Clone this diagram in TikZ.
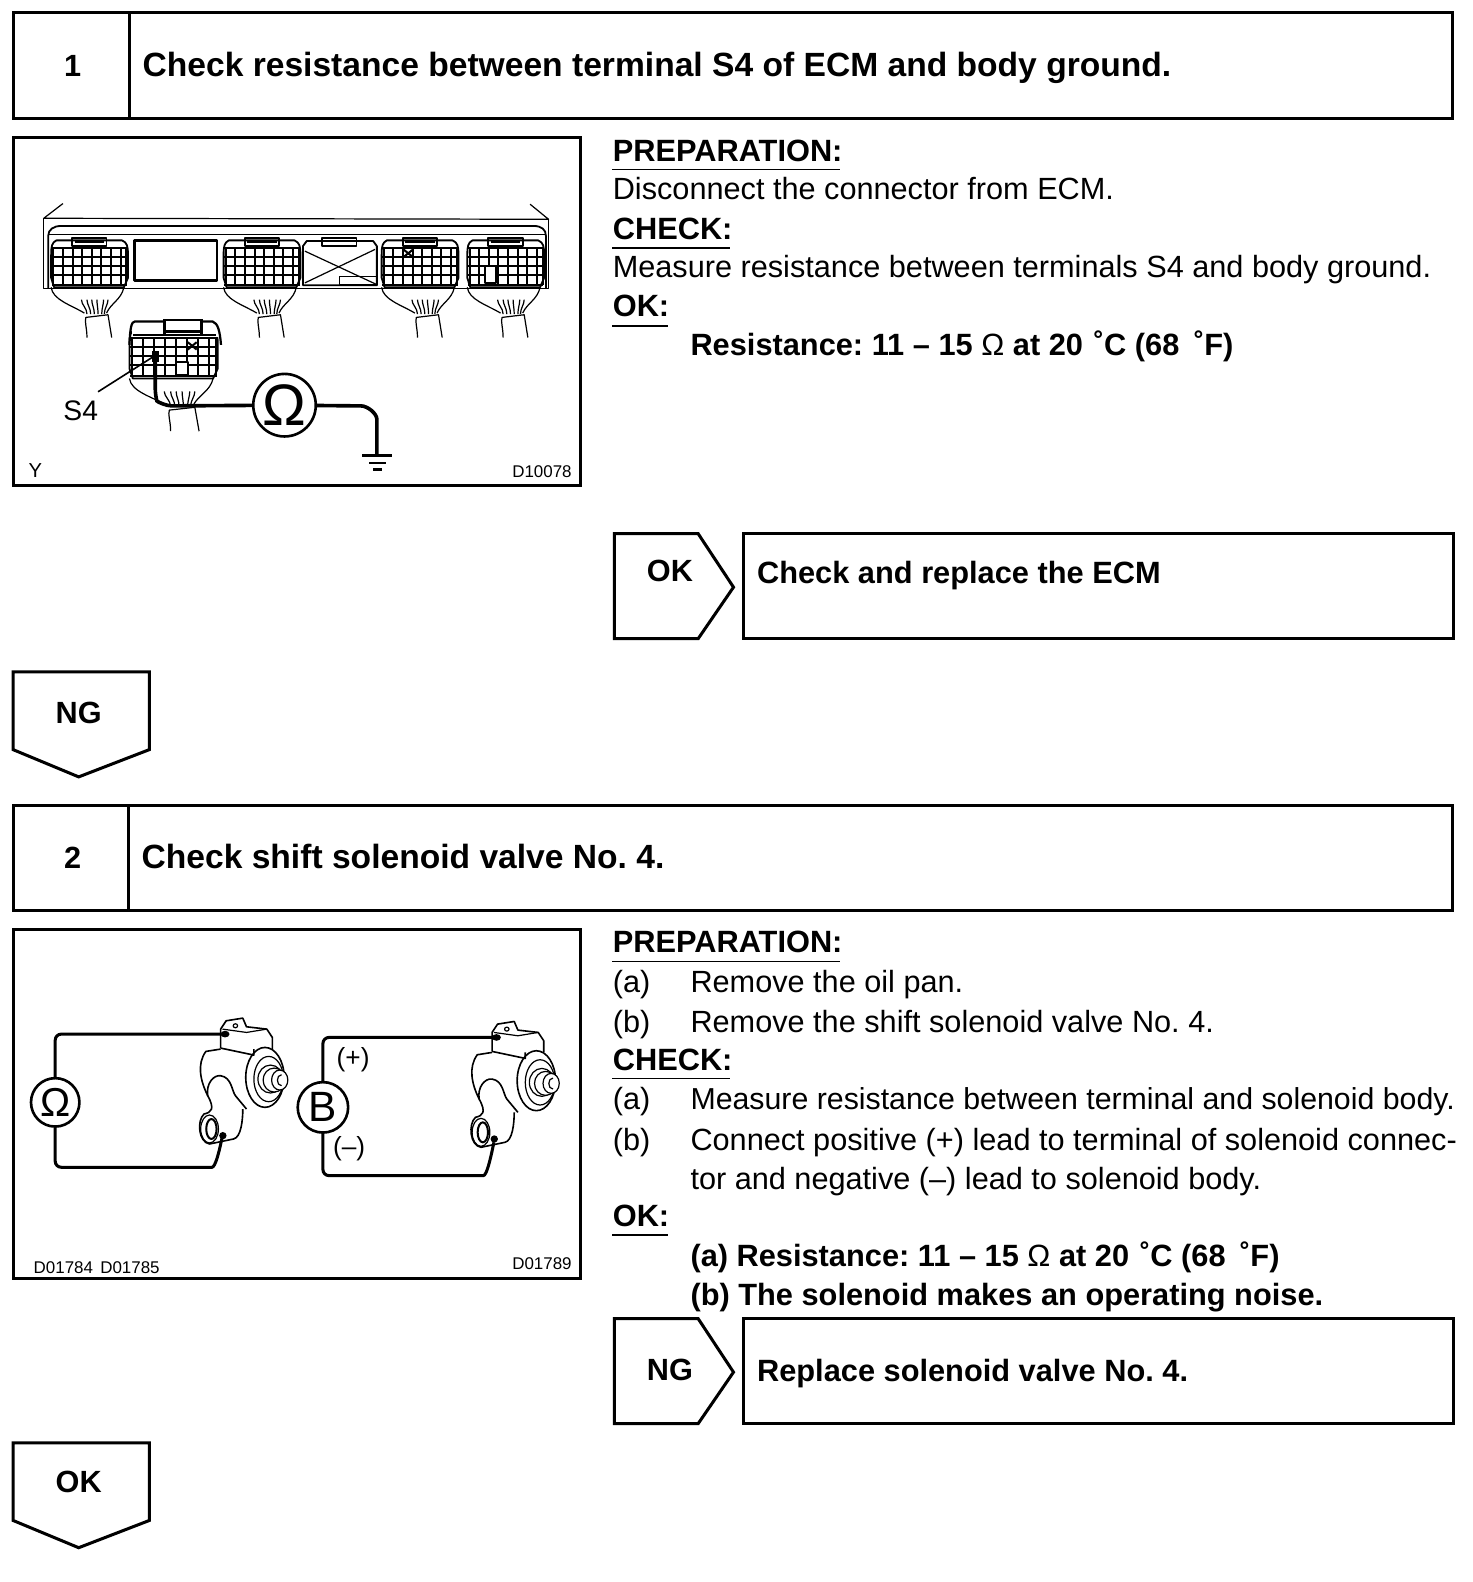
\documentclass[tikz,border=0pt]{standalone}
\usepackage{fontspec}
\setmainfont{Liberation Sans}
\tikzset{
  frame/.style={draw=black,line width=1.5pt,fill=white},
  body/.style={anchor=base west,inner sep=0pt,font=\fontsize{15.2}{18}\selectfont},
  bold/.style={anchor=base west,inner sep=0pt,font=\fontsize{15.25}{18}\bfseries\selectfont},
  head/.style={anchor=base west,inner sep=0pt,font=\fontsize{16.65}{20}\bfseries\selectfont},
  step num/.style={inner sep=0pt,font=\fontsize{15.2}{20}\bfseries\selectfont},
  code/.style={inner sep=0pt,font=\fontsize{8.4}{10}\selectfont},
  ill/.style={line width=0.6pt,line join=round},
  wire/.style={line width=1.5pt,rounded corners=3pt},
  meter/.style={circle,draw=black,line width=1.3pt,fill=white,inner sep=0pt,minimum size=31pt},
}
\newcommand{\ecmconn}[4]{%
 \begin{scope}[shift={(#1,#2)},xscale=#3,yscale=#4,shift={(-108,-325)},ill]
  \draw[line width=0.9pt] (108,372) .. controls (108,345) and (110,335) .. (122,328) -- (300,328) .. controls (314,335) and (316,345) .. (316,372) -- (316,440) -- (305,468) -- (116,468) -- (108,440) -- cycle;
  \draw[line width=0.9pt] (165,345) -- (165,322) -- (258,322) -- (258,345) -- cycle;
  \draw (172,333) -- (252,333);
  \foreach \yy in {352,378,404,430,460} \draw[line width=1pt] (110,\yy) -- (314,\yy);
  \foreach \xx in {114,140,166,192,218,244,270,296,312} \draw[line width=1pt] (\xx,352) -- (\xx,460);
  \draw (108,468) .. controls (112,505) and (160,520) .. (198,545);
  \draw (305,468) .. controls (298,505) and (270,515) .. (258,545);
  \foreach \a/\b in {205/190,215/205,225/218,235/232,245/250,252/262} \draw (\a,548) .. controls (\a,530) and (\b,520) .. (\b,505);
  \draw (205,618) .. controls (205,590) and (198,570) .. (202,558) -- (262,550) -- (272,618);
 \end{scope}}
\newcommand{\solenoid}[2]{%
 \begin{scope}[shift={(#1,#2)},ill]
  \draw[line width=0.8pt] (570,382) -- (570,325) -- (585,300) -- (630,292) -- (640,318) -- (695,325) -- (710,350) -- (710,385);
  \draw[line width=0.8pt] (570,382) -- (660,403) -- (660,385);
  \draw (575,325) -- (640,335) -- (695,325);
  \draw (610,315) ellipse (6 and 6);
  \draw[line width=0.8pt] (570,385) -- (530,392) .. controls (505,430) and (515,480) .. (535,525) .. controls (555,565) and (545,575) .. (525,580) .. controls (505,600) and (510,665) .. (540,670) -- (605,655) .. controls (625,650) and (630,600) .. (630,565);
  \draw[line width=0.8pt] (535,525) .. controls (530,490) and (550,462) .. (570,465) .. controls (600,470) and (600,510) .. (610,525) -- (640,565);
  \draw (540,625) ellipse (24 and 42);
  \draw[line width=1pt] (545,625) ellipse (14 and 30);
  \draw[line width=0.8pt] (690,470) ellipse (52 and 90);
  \draw (700,475) ellipse (40 and 68);
  \draw[fill=white] (705,475) ellipse (34 and 42);
  \draw[fill=white] (715,478) ellipse (30 and 36);
  \draw[fill=white] (730,478) ellipse (22 and 30);
  \draw (735,462) .. controls (720,462) and (720,495) .. (735,495);
  \fill (576,645) ellipse (10 and 11);
  \fill (582,340) ellipse (12 and 10);
 \end{scope}}
\begin{document}
\frenchspacing
\begin{tikzpicture}[x=0.5pt,y=-0.5pt]
\useasboundingbox (0,0) rectangle (1459,1568);
% step 1
\draw[frame] (13,12) rectangle (1440,117);
\draw[frame] (128,12) -- (128,117);
\node[step num] (n1) at (72,65) {1};
\node[head] (t1) at (141,76) {Check resistance between terminal S4 of ECM and body ground.};
\draw[frame] (13,136) rectangle (575,481);
\node[bold] (p1) at (607,160) {PREPARATION:};
\draw[line width=0.8pt] (607,168) -- (833,168);
\node[body] (p1a) at (607,198) {Disconnect the connector from ECM.};
\node[bold] (c1) at (607,237) {CHECK:};
\draw[line width=0.8pt] (607,246) -- (724,246);
\node[body] (c1a) at (607,275) {Measure resistance between terminals S4 and body ground.};
\node[bold] (o1) at (607,314) {OK:};
\draw[line width=0.8pt] (607,323) -- (662,323);
\node[bold] (o1a) at (684,352) {Resistance: 11 – 15 {\mdseries Ω} at 20 \kern1.2pt˚C (68 \kern3pt˚F)};
\draw[frame] (609,529) -- (692,529) -- (727,582) -- (692,633) -- (609,633) -- cycle;
\node[step num] (ok1) at (664,566) {OK};
\draw[frame] (737,529) rectangle (1441,633);
\node[bold] (r1) at (750,578) {Check and replace the ECM};
\draw[frame] (13,666) -- (148,666) -- (148,743) -- (78,770) -- (13,743) -- cycle;
\node[step num] (ng1) at (78,707) {NG};
% step 2
\draw[frame] (13,798) rectangle (1440,902);
\draw[frame] (127,798) -- (127,902);
\node[step num] (n2) at (72,850) {2};
\node[head] (t2) at (140,861) {Check shift solenoid valve No. 4.};
\draw[frame] (13,921) rectangle (575,1267);
\node[bold] (p2) at (607,944) {PREPARATION:};
\draw[line width=0.8pt] (607,953) -- (833,953);
\node[body] (p2a) at (607,984) {(a)};
\node[body] (p2at) at (684,984) {Remove the oil pan.};
\node[body] (p2b) at (607,1023) {(b)};
\node[body] (p2bt) at (684,1023) {Remove the shift solenoid valve No. 4.};
\node[bold] (c2) at (607,1061) {CHECK:};
\draw[line width=0.8pt] (607,1069) -- (724,1069);
\node[body] (c2a) at (607,1100) {(a)};
\node[body,font=\fontsize{15.02}{18}\selectfont] (c2at) at (684,1100) {Measure resistance between terminal and solenoid body.};
\node[body] (c2b) at (607,1140) {(b)};
\node[body] (c2bt) at (684,1140) {Connect positive (+) lead to terminal of solenoid connec-};
\node[body] (c2bu) at (684,1179) {tor and negative (–) lead to solenoid body.};
\node[bold] (o2) at (607,1216) {OK:};
\draw[line width=0.8pt] (607,1224) -- (662,1224);
\node[bold] (o2a) at (684,1255) {(a) Resistance: 11 – 15 {\mdseries Ω} at 20 \kern1.2pt˚C (68 \kern3pt˚F)};
\node[bold] (o2b) at (684,1294) {(b) The solenoid makes an operating noise.};
\draw[frame] (609,1307) -- (692,1307) -- (727,1360) -- (692,1411) -- (609,1411) -- cycle;
\node[step num] (ng2) at (664,1358) {NG};
\draw[frame] (737,1307) rectangle (1441,1411);
\node[bold] (r2) at (750,1369) {Replace solenoid valve No. 4.};
\draw[frame] (13,1430) -- (148,1430) -- (148,1507) -- (78,1534) -- (13,1507) -- cycle;
\node[step num] (ok2) at (78,1469) {OK};
% illustration 1
\begin{scope}[shift={(11.17,129.36)},x=0.183pt,y=-0.166pt]
 \begin{scope}[ill]
  \draw (140,218) -- (88,262) -- (1455,265) -- (1405,220);
  \draw (88,262) -- (88,472) -- (1455,472) -- (1455,265);
  \draw[line width=0.9pt] (100,470) -- (100,315) .. controls (100,295) and (115,285) .. (135,285) -- (1415,285) .. controls (1435,285) and (1448,295) .. (1448,315) -- (1448,470);
  \draw (100,310) -- (1448,310);
  \draw[line width=1.3pt] (333,328) rectangle (557,448);
  \draw[line width=0.9pt] (790,345) -- (800,330) -- (980,330) -- (990,345) -- (990,462) -- (790,462) -- cycle;
  \draw[line width=0.9pt] (842,345) -- (842,322) -- (935,322) -- (935,345) -- cycle;
  \draw (795,360) -- (990,460);
  \draw (985,355) -- (795,455);
  \draw (888,435) rectangle (990,460);
 \end{scope}
 \ecmconn{108}{325}{1}{1}
 \ecmconn{575}{325}{1}{1}
 \ecmconn{1003}{325}{1}{1}
 \ecmconn{1235}{325}{1}{1}
 \draw[ill,line width=1pt] (1062,355) -- (1088,378) (1088,355) -- (1062,378);
 \fill[white] (1282,405) rectangle (1312,456);
 \draw[ill,line width=0.9pt] (1282,405) rectangle (1312,456);
 \ecmconn{320}{590}{1.15}{1.05}
 \fill[white] (326,570) rectangle (562,616);
 \draw[line width=1.1pt] (320,640) .. controls (322,590) and (325,570) .. (335,570) -- (545,570) .. controls (560,575) and (565,600) .. (568,640);
 \draw[line width=1.1pt,fill=white] (415,610) rectangle (515,565);
 \draw[line width=1pt] (415,600) -- (515,600);
 \draw[line width=0.9pt] (330,610) -- (415,610) (515,610) -- (555,610);
 \draw[ill,line width=1pt] (478,632) -- (502,654) (502,632) -- (478,654);
 \fill[white] (445,690) rectangle (478,730);
 \draw[ill,line width=0.9pt] (445,690) rectangle (478,730);
 \draw[line width=0.8pt] (235,780) -- (385,675);
 \fill (380,658) rectangle (400,690);
 \coordinate (probe) at (390,665);
 \coordinate (gnd) at (990,970);
 \node[meter] (ohm1) at (740,820) {\fontsize{29}{29}\selectfont Ω};
 \draw[wire,line width=1.8pt] (probe) -- (390,790) .. controls (395,810) and (420,822) .. (450,822) -- (ohm1);
 \draw[wire,line width=1.8pt] (ohm1) -- (930,822) .. controls (965,822) and (990,845) .. (990,880) -- (gnd);
 \draw[line width=1.1pt] (950,970) -- (1030,970);
 \draw[line width=1.1pt] (970,992) -- (1015,992);
 \draw[line width=1.1pt] (980,1012) -- (1005,1012);
\end{scope}
\node[inner sep=0pt,font=\fontsize{14}{17}\selectfont] (s4) at (80,407) {S4};
\node[inner sep=0pt,font=\fontsize{10}{12}\selectfont] (y1) at (35,466) {Y};
\node[code,anchor=east] (d1) at (567,467) {D10078};
% illustration 2
\begin{scope}[shift={(10.07,912.75)},x=0.183pt,y=-0.165pt]
 \solenoid{0}{0}
 \solenoid{735}{10}
 \coordinate (st1) at (580,340);
 \coordinate (sb1) at (575,645);
 \coordinate (st2) at (1315,350);
 \coordinate (sb2) at (1310,665);
 \node[meter,minimum size=24pt] (ohm2) at (122,545) {\fontsize{20}{20}\selectfont Ω};
 \node[meter,minimum size=25pt] (bat) at (847,560) {\fontsize{21}{21}\selectfont B};
 \draw[wire] (ohm2) -- (122,340) -- (st1);
 \draw[wire] (ohm2) -- (122,740) -- (530,740) .. controls (555,740) and (565,700) .. (sb1);
 \draw[wire] (bat) -- (847,350) -- (st2);
 \draw[wire] (bat) -- (847,765) -- (1265,765) .. controls (1290,765) and (1300,720) .. (sb2);
\end{scope}
\node[inner sep=0pt,font=\fontsize{13}{16}\selectfont] (plus) at (350,1050) {(+)};
\node[inner sep=0pt,font=\fontsize{13}{16}\selectfont] (minus) at (346,1139) {(–)};
\node[code,anchor=west] (d2) at (33,1256) {D01784};
\node[code,anchor=west] (d3) at (99,1256) {D01785};
\node[code,anchor=east] (d4) at (567,1252) {D01789};
\end{tikzpicture}
\end{document}
